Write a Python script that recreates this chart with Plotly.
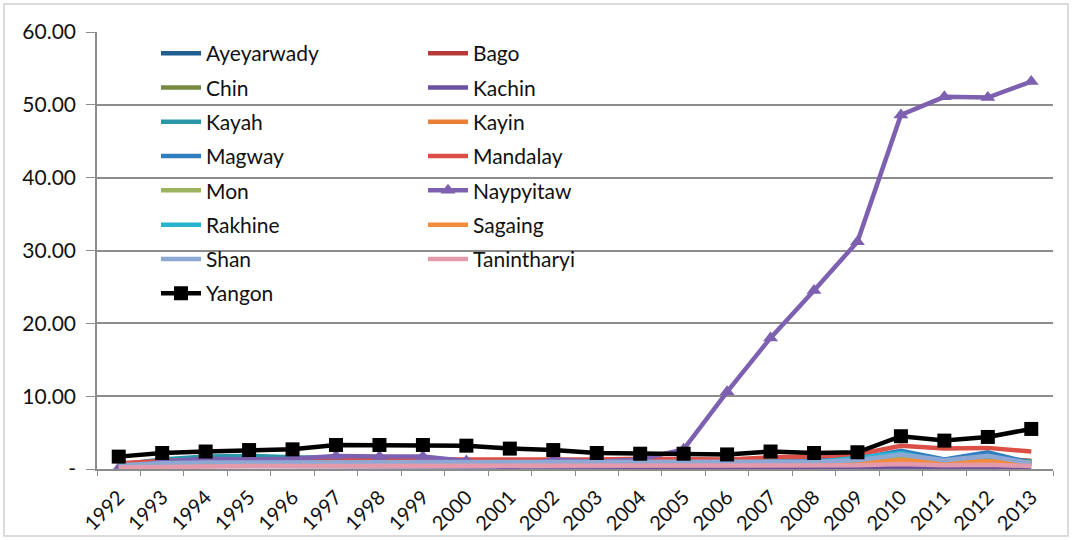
import plotly.graph_objects as go

years = [str(y) for y in range(1992, 2014)]

ayeyarwady = [0.5, 0.7, 0.8, 0.8, 0.8, 0.9, 0.9, 0.9, 0.8, 0.8, 0.8, 0.8, 0.8, 0.8, 0.8, 0.9, 0.9, 1.0, 1.5, 1.0, 1.3, 0.9]
bago = [0.6, 0.9, 1.0, 1.0, 1.0, 1.1, 1.1, 1.1, 1.0, 1.0, 1.0, 1.0, 1.0, 1.0, 1.0, 1.1, 1.1, 1.3, 1.8, 1.3, 1.6, 1.1]
chin = [0.3, 0.4, 0.5, 0.5, 0.5, 0.5, 0.5, 0.5, 0.4, 0.4, 0.4, 0.4, 0.4, 0.4, 0.4, 0.5, 0.5, 0.6, 1.0, 0.8, 1.0, 1.1]
kachin = [0.3, 0.4, 0.4, 0.4, 0.4, 0.4, 0.4, 0.4, 0.3, 0.3, 0.3, 0.3, 0.3, 0.3, 0.2, 0.2, 0.2, 0.2, 0.3, 0.2, 0.2, 0.2]
kayah = [0.6, 1.3, 1.7, 1.8, 1.6, 1.5, 1.5, 1.4, 1.0, 1.0, 1.0, 1.0, 1.1, 1.1, 1.2, 1.5, 1.4, 1.4, 1.8, 1.2, 1.6, 1.0]
kayin = [0.3, 0.5, 0.5, 0.5, 0.5, 0.6, 0.6, 0.6, 0.5, 0.5, 0.5, 0.5, 0.5, 0.5, 0.5, 0.6, 0.6, 0.7, 1.2, 0.8, 1.0, 0.6]
magway = [0.5, 0.8, 0.9, 1.0, 1.0, 1.1, 1.1, 1.1, 1.0, 1.0, 1.0, 1.0, 1.0, 1.0, 1.0, 1.2, 1.2, 1.4, 2.5, 1.3, 2.3, 0.8]
mandalay = [0.8, 1.1, 1.2, 1.3, 1.3, 1.3, 1.3, 1.3, 1.2, 1.3, 1.3, 1.3, 1.4, 1.3, 1.3, 1.6, 1.7, 2.0, 3.2, 2.8, 2.9, 2.4]
mon = [0.4, 0.6, 0.7, 0.7, 0.7, 0.8, 0.8, 0.8, 0.7, 0.7, 0.7, 0.7, 0.7, 0.7, 0.7, 0.8, 0.8, 0.9, 1.4, 1.0, 1.2, 0.9]
naypyitaw = [0.1, 1.0, 1.4, 1.3, 1.4, 1.8, 1.7, 1.7, 1.1, 0.1, 1.3, 1.0, 1.3, 2.7, 10.6, 18.0, 24.5, 31.2, 48.6, 51.1, 51.0, 53.2]
rakhine = [0.3, 0.5, 0.6, 0.6, 0.6, 0.6, 0.6, 0.6, 0.6, 0.6, 0.6, 0.6, 0.7, 0.7, 0.8, 1.0, 0.9, 1.5, 2.2, 1.0, 1.6, 0.5]
sagaing = [0.4, 0.5, 0.6, 0.6, 0.6, 0.7, 0.7, 0.7, 0.6, 0.6, 0.6, 0.6, 0.6, 0.6, 0.6, 0.7, 0.7, 0.8, 1.2, 0.9, 1.1, 0.7]
shan = [0.5, 0.8, 0.9, 0.9, 0.9, 1.0, 1.0, 1.0, 0.9, 0.9, 0.9, 0.9, 0.9, 0.9, 0.9, 1.0, 1.0, 1.2, 2.0, 1.2, 1.8, 0.8]
tanintharyi = [0.2, 0.3, 0.4, 0.4, 0.4, 0.4, 0.4, 0.4, 0.4, 0.4, 0.4, 0.4, 0.4, 0.4, 0.4, 0.4, 0.4, 0.5, 0.7, 0.5, 0.6, 0.4]
yangon = [1.7, 2.2, 2.4, 2.6, 2.7, 3.3, 3.3, 3.3, 3.2, 2.8, 2.6, 2.2, 2.1, 2.1, 2.0, 2.4, 2.2, 2.3, 4.5, 3.9, 4.4, 5.5]

y_tick_vals = [0, 10, 20, 30, 40, 50, 60]
y_tick_text = ["-", "10.00", "20.00", "30.00", "40.00", "50.00", "60.00"]

# (name, values, colour, marker symbol, legend column)
series = [
    ("Ayeyarwady", ayeyarwady, "#1F5E91", None, "legend"),
    ("Bago", bago, "#B73A3A", None, "legend2"),
    ("Chin", chin, "#76893F", None, "legend"),
    ("Kachin", kachin, "#6A52A0", None, "legend2"),
    ("Kayah", kayah, "#2A97A8", None, "legend"),
    ("Kayin", kayin, "#EB7D35", None, "legend2"),
    ("Magway", magway, "#2F7EC0", None, "legend"),
    ("Mandalay", mandalay, "#DC4F46", None, "legend2"),
    ("Mon", mon, "#9AB35E", None, "legend"),
    ("Naypyitaw", naypyitaw, "#7D60B0", "triangle-up", "legend2"),
    ("Rakhine", rakhine, "#27B4CF", None, "legend"),
    ("Sagaing", sagaing, "#F28C3C", None, "legend2"),
    ("Shan", shan, "#8EA8D4", None, "legend"),
    ("Tanintharyi", tanintharyi, "#E39AAA", None, "legend2"),
    ("Yangon", yangon, "#000000", "square", "legend"),
]

fig = go.Figure()
for name, vals, color, symbol, leg in series:
    kw = dict(mode="lines")
    if symbol:
        kw = dict(mode="lines+markers",
                  marker=dict(symbol=symbol, size=14 if symbol == "square" else 13, color=color))
    fig.add_trace(go.Scatter(
        x=years, y=vals, name=name, legend=leg, legendgroup=name,
        line=dict(color=color, width=4.5), **kw
    ))

W, H = 1072, 540
ml, mr, mt, mb = 97, 19, 32, 71
pw, ph = W - ml - mr, H - mt - mb

font = "Lato, 'Open Sans', sans-serif"
legend_style = dict(
    font=dict(family=font, size=21, color="#111111"),
    bgcolor="rgba(0,0,0,0)", orientation="v",
    xanchor="left", yanchor="top", tracegroupgap=4,
    itemwidth=40,
)

fig.update_layout(
    width=W, height=H,
    margin=dict(l=ml, r=mr, t=mt, b=mb, autoexpand=False),
    paper_bgcolor="white", plot_bgcolor="white",
    font=dict(family=font, size=21, color="#111111"),
    legend=dict(x=(156 - ml) / pw, y=1 - (33 - mt) / ph, **legend_style),
    legend2=dict(x=(423 - ml) / pw, y=1 - (33 - mt) / ph, **legend_style),
    xaxis=dict(
        type="category", range=[-0.5, len(years) - 0.5],
        tickangle=-45, tickson="boundaries",
        ticks="outside", ticklen=5, tickcolor="#8c8c8c",
        showline=True, linecolor="#8c8c8c", linewidth=1.5,
        showgrid=False, tickfont=dict(size=20), automargin=False,
        ticklabelstandoff=7,
    ),
    yaxis=dict(
        range=[0, 60], tickvals=y_tick_vals, ticktext=y_tick_text,
        ticks="outside", ticklen=9, tickcolor="#8c8c8c",
        showline=True, linecolor="#8c8c8c", linewidth=1.5,
        showgrid=True, gridcolor="#8c8c8c", gridwidth=1.5,
        zeroline=False, tickfont=dict(size=21), ticklabelstandoff=6,
        automargin=False,
    ),
    shapes=[dict(
        type="rect", xref="paper", yref="paper",
        x0=(4 - ml) / pw, x1=(W - 4 - ml) / pw,
        y0=1 - (H - 4 - mt) / ph, y1=1 - (4 - mt) / ph,
        line=dict(color="#d0d0d0", width=1.5), layer="below",
    )],
)

fig.write_html("out.html")
